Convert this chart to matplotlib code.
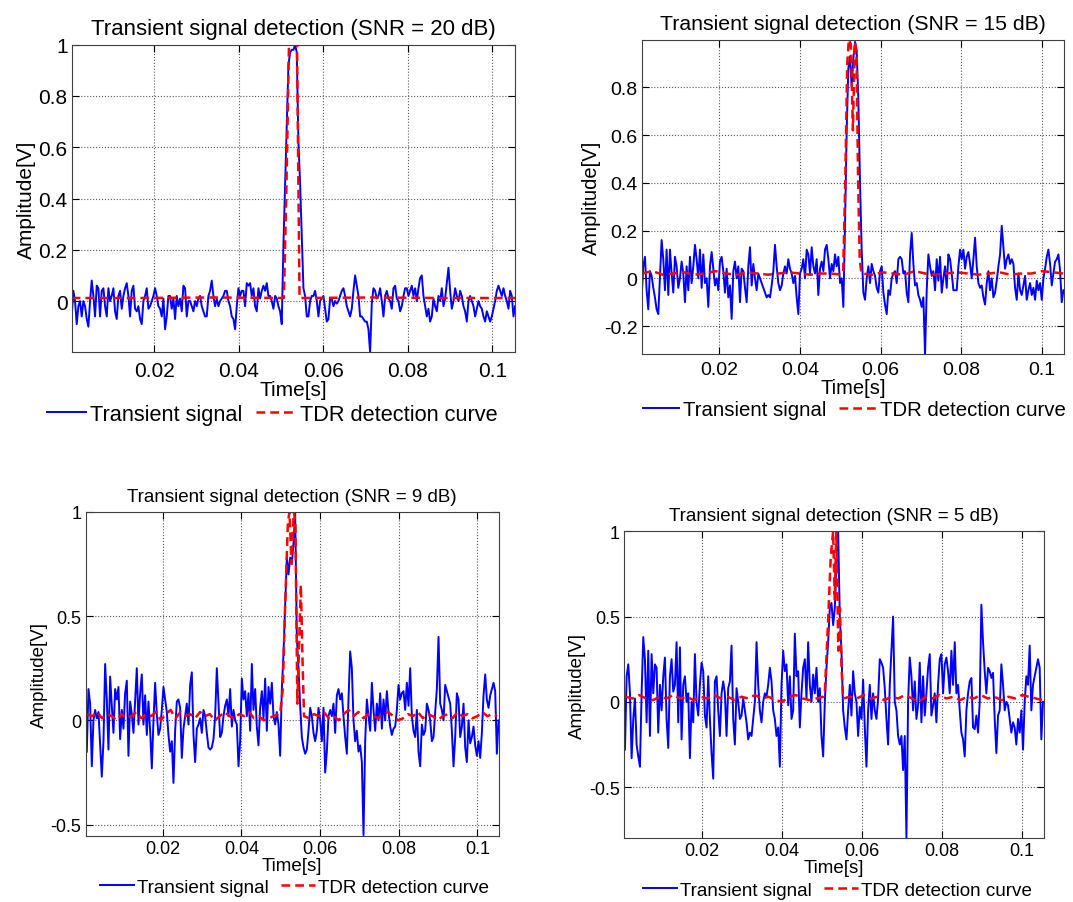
import numpy as np
import matplotlib
matplotlib.use('Agg')
import matplotlib.pyplot as plt

plt.rcParams['font.family'] = ['Liberation Sans', 'DejaVu Sans']

titles = ['Transient signal detection (SNR = 20 dB)',
          'Transient signal detection (SNR = 15 dB)',
          'Transient signal detection (SNR = 9 dB)',
          'Transient signal detection (SNR = 5 dB)']
legend_labels = ['Transient signal', 'TDR detection curve']
xticks = [0.02, 0.04, 0.06, 0.08, 0.1]
xtick_labels = ['0.02', '0.04', '0.06', '0.08', '0.1']

# time span of each blue trace
t_span_20 = (0.00051, 0.1054)
t_span_15 = (0.00076, 0.10526)
t_span_9 = (0.00067, 0.10535)
t_span_5 = (0.00065, 0.10537)

blue_20 = [-0.06, 0.04, 0.00, -0.09, -0.02, 0.00, -0.06, 0.00, -0.02, -0.07,
           -0.10, 0.00, 0.08, 0.02, -0.06, 0.06, 0.05, -0.06, 0.04, 0.05,
           -0.02, -0.06, 0.05, 0.00, 0.02, 0.05, -0.04, -0.07, 0.02, 0.04,
           -0.03, 0.02, 0.05, 0.07, 0.02, -0.06, 0.04, 0.06, -0.03, -0.04,
           -0.02, -0.07, -0.09, 0.00, 0.02, 0.05, -0.03, -0.02, 0.00, 0.02,
           0.05, 0.02, -0.02, -0.03, -0.06, 0.01, -0.11, -0.06, 0.02, 0.02,
           -0.03, 0.01, -0.07, 0.02, -0.02, 0.01, -0.04, 0.06, 0.05, -0.06,
           0.00, 0.00, -0.02, -0.04, 0.00, -0.02, 0.01, 0.02, -0.02, -0.04,
           -0.06, -0.06, 0.02, 0.04, 0.08, 0.02, -0.02, 0.01, -0.02, 0.00,
           0.01, 0.02, 0.04, 0.04, 0.00, -0.02, -0.06, -0.07, -0.11, -0.02,
           0.05, 0.02, 0.04, 0.04, -0.02, 0.07, 0.06, 0.07, 0.02, 0.05,
           -0.02, -0.04, 0.05, 0.01, 0.04, 0.06, 0.04, 0.07, 0.02, 0.02,
           0.00, -0.03, 0.02, 0.01, -0.02, -0.04, -0.09, 0.22, 0.45, 0.67,
           0.92, 0.97, 0.98, 0.98, 1.00, 0.97, 0.62, 0.46, 0.25, 0.05,
           0.02, -0.06, -0.06, 0.00, 0.02, 0.02, 0.04, 0.00, -0.06, 0.00,
           0.01, 0.02, -0.03, -0.08, -0.07, 0.01, 0.01, -0.02, 0.00, -0.01,
           0.00, 0.02, 0.04, 0.05, 0.02, -0.02, -0.04, -0.06, -0.03, 0.04,
           0.10, 0.06, 0.02, -0.06, -0.06, -0.07, -0.08, -0.08, -0.11, -0.20,
           -0.01, 0.05, 0.04, 0.01, 0.02, 0.05, 0.00, -0.06, 0.02, 0.04,
           0.01, 0.00, -0.03, 0.05, 0.06, 0.01, 0.00, -0.04, -0.02, 0.02,
           0.05, 0.05, 0.02, 0.04, 0.06, 0.02, 0.05, 0.00, 0.05, 0.09,
           0.10, 0.02, -0.02, -0.06, -0.03, -0.08, -0.06, 0.01, -0.02, -0.04,
           0.02, 0.00, 0.05, -0.02, 0.01, 0.07, 0.13, 0.04, -0.03, 0.00,
           0.05, 0.02, 0.00, 0.04, 0.02, -0.02, -0.04, -0.08, 0.00, 0.02,
           0.00, -0.02, -0.06, -0.03, 0.00, -0.02, -0.03, -0.06, -0.08, -0.04,
           -0.06, -0.08, -0.06, -0.03, 0.00, 0.04, 0.06, 0.04, 0.02, 0.05,
           0.02, 0.00, -0.03, 0.04, 0.02, -0.06, -0.02]

blue_15 = [-0.08, 0.05, 0.09, -0.05, -0.13, 0.03, 0.01, -0.04, -0.08, -0.13,
           -0.15, 0.00, 0.16, 0.08, -0.05, 0.12, -0.07, 0.12, 0.02, -0.06,
           0.09, 0.05, -0.04, 0.00, 0.07, 0.02, -0.10, 0.05, -0.05, 0.09,
           -0.02, 0.05, 0.14, 0.08, 0.00, 0.12, -0.04, 0.10, -0.02, 0.00,
           -0.12, 0.05, 0.11, 0.04, -0.03, 0.00, -0.05, 0.07, 0.09, 0.03,
           -0.06, 0.04, -0.08, -0.03, -0.17, 0.03, 0.07, 0.00, 0.05, -0.10,
           0.04, 0.03, -0.04, -0.10, 0.05, 0.13, -0.03, 0.06, 0.00, -0.05,
           0.02, 0.00, -0.02, -0.04, -0.06, -0.08, -0.07, -0.08, -0.03, 0.03,
           0.14, 0.05, -0.02, -0.05, -0.03, 0.02, 0.05, 0.02, 0.08, 0.04,
           0.02, -0.02, 0.01, -0.08, -0.15, 0.02, 0.04, 0.08, 0.00, 0.12,
           0.10, 0.02, 0.13, 0.05, 0.02, 0.08, -0.07, 0.04, 0.07, 0.03,
           0.12, 0.14, 0.08, 0.00, 0.06, 0.03, 0.10, 0.05, 0.09, -0.02,
           0.00, -0.12, 0.22, 0.62, 0.88, 0.93, 0.80, 0.92, 0.99, 0.95,
           0.75, 0.40, 0.12, -0.06, -0.09, 0.00, 0.05, -0.02, 0.06, 0.03,
           0.01, -0.04, -0.06, 0.03, 0.05, -0.06, -0.11, -0.15, -0.05, -0.07,
           0.00, 0.02, 0.03, -0.02, 0.08, 0.09, 0.08, 0.02, 0.03, -0.06,
           -0.10, 0.10, 0.19, 0.06, -0.03, -0.02, -0.07, -0.09, -0.12, -0.08,
           -0.32, -0.05, 0.10, 0.05, 0.01, 0.03, -0.05, 0.08, -0.01, 0.09,
           -0.06, 0.00, 0.05, -0.04, 0.10, 0.08, 0.02, -0.05, -0.05, -0.05,
           0.05, 0.12, 0.08, 0.12, 0.04, 0.09, 0.11, 0.06, 0.00, 0.08,
           0.17, 0.05, -0.02, -0.04, -0.03, -0.08, -0.11, -0.02, 0.03, -0.05,
           0.00, -0.08, -0.06, -0.01, 0.05, 0.10, 0.22, 0.13, 0.04, 0.08,
           0.10, 0.06, 0.08, 0.06, -0.04, -0.09, 0.02, -0.05, -0.07, -0.03,
           0.01, -0.09, -0.05, -0.02, -0.07, -0.04, -0.09, -0.01, -0.05, -0.02,
           -0.09, 0.00, 0.04, 0.09, 0.12, 0.06, -0.03, 0.02, 0.07, 0.08,
           0.10, 0.03, -0.10, -0.05]

blue_9 = [-0.15, 0.15, 0.08, -0.22, 0.00, 0.05, 0.01, 0.04, -0.12, -0.27,
          -0.10, 0.27, 0.10, -0.14, 0.21, 0.07, -0.06, 0.15, 0.10, 0.16,
          -0.09, 0.05, -0.04, 0.13, 0.19, -0.17, 0.09, 0.03, -0.06, 0.10,
          0.25, -0.02, 0.13, 0.22, -0.02, 0.12, -0.07, 0.09, -0.05, -0.23,
          0.00, 0.18, 0.03, -0.07, -0.04, 0.05, 0.16, 0.10, 0.04, -0.07,
          -0.15, -0.10, -0.30, -0.05, 0.09, 0.10, 0.06, -0.18, -0.04, 0.02,
          0.08, -0.02, 0.17, 0.23, -0.07, -0.20, -0.04, -0.02, 0.01, -0.06,
          0.05, 0.02, -0.06, -0.13, -0.14, -0.13, -0.09, 0.02, 0.25, 0.08,
          -0.08, -0.06, 0.02, 0.07, 0.10, 0.02, 0.15, -0.03, 0.05, 0.00,
          -0.02, -0.22, -0.10, 0.20, 0.10, 0.14, 0.02, 0.13, -0.05, 0.27,
          0.05, 0.15, -0.03, -0.12, 0.06, 0.14, 0.01, 0.20, -0.05, 0.16,
          0.08, 0.18, 0.02, -0.02, 0.04, -0.02, -0.17, 0.15, 0.32, 0.55,
          0.78, 0.70, 0.78, 0.75, 0.85, 1.00, 0.40, 0.25, 0.07, -0.08,
          -0.13, -0.16, -0.14, -0.05, 0.06, 0.02, -0.06, -0.10, -0.05, 0.06,
          0.00, -0.10, 0.06, -0.25, -0.15, 0.02, 0.05, 0.02, 0.08, -0.06,
          0.12, 0.15, 0.10, 0.13, 0.02, -0.08, -0.16, 0.10, 0.33, 0.25,
          0.00, -0.10, -0.05, -0.15, -0.12, -0.20, -0.55, -0.10, 0.10, 0.02,
          -0.05, 0.18, 0.05, -0.05, 0.08, 0.00, 0.13, -0.04, 0.10, 0.00,
          0.14, 0.04, -0.03, -0.07, -0.04, -0.03, 0.05, 0.17, 0.10, 0.13,
          0.14, 0.05, 0.18, 0.07, 0.25, 0.02, -0.05, -0.08, 0.05, -0.15,
          -0.22, -0.02, -0.07, -0.05, 0.08, 0.05, 0.00, -0.10, -0.08, 0.04,
          0.15, 0.40, 0.08, 0.05, 0.00, 0.17, 0.14, 0.11, 0.08, -0.05,
          -0.22, -0.08, 0.13, 0.10, -0.08, -0.03, 0.08, -0.13, -0.20, 0.00,
          -0.11, -0.08, -0.03, -0.12, -0.17, -0.10, -0.18, -0.06, 0.12, 0.22,
          0.10, 0.06, 0.12, 0.15, 0.18, 0.14, -0.16, 0.00]

blue_5 = [-0.28, 0.15, 0.22, 0.05, -0.33, -0.10, 0.02, -0.25, -0.32, -0.38,
          0.05, 0.38, 0.25, -0.12, 0.30, -0.20, 0.28, 0.05, 0.22, 0.20,
          -0.18, 0.10, -0.05, 0.15, 0.26, -0.10, -0.27, 0.15, 0.25, 0.06,
          0.10, 0.35, -0.12, 0.32, -0.22, 0.10, 0.15, 0.00, 0.05, -0.33,
          0.00, -0.12, 0.28, 0.00, -0.08, 0.10, 0.23, 0.18, -0.08, -0.15,
          0.15, -0.10, -0.30, -0.45, 0.12, 0.15, -0.05, -0.20, 0.05, 0.12,
          0.05, -0.20, 0.08, 0.12, 0.33, -0.10, -0.25, 0.08, 0.00, -0.10,
          -0.08, 0.02, -0.05, -0.12, -0.22, -0.18, -0.20, -0.10, 0.00, 0.35,
          0.10, -0.05, -0.12, 0.00, 0.05, 0.03, 0.10, 0.20, 0.12, -0.05,
          -0.10, -0.20, -0.15, -0.38, 0.10, 0.30, 0.18, 0.22, -0.02, 0.15,
          -0.10, -0.05, 0.40, 0.15, 0.18, -0.15, 0.05, 0.20, 0.25, 0.02,
          0.35, 0.10, 0.00, 0.16, 0.05, 0.20, 0.00, 0.08, -0.20, -0.32,
          0.00, 0.20, 0.35, 0.55, 0.58, 0.45, 0.55, 0.80, 1.00, 0.50,
          0.30, -0.05, -0.15, -0.22, -0.05, 0.10, -0.08, 0.18, 0.05, 0.00,
          -0.20, -0.03, -0.10, 0.13, -0.15, -0.38, -0.05, 0.10, -0.10, 0.05,
          -0.05, -0.10, 0.02, 0.25, 0.23, 0.20, 0.08, -0.10, -0.25, 0.10,
          0.30, 0.50, 0.00, -0.05, -0.20, -0.25, -0.20, -0.40, -0.20, -0.80,
          0.00, 0.26, 0.15, -0.05, 0.12, -0.10, -0.02, 0.23, -0.12, 0.15,
          -0.08, 0.05, 0.20, 0.28, -0.08, -0.02, 0.05, -0.12, 0.10, 0.25,
          0.28, 0.05, 0.22, 0.26, 0.18, 0.05, 0.30, 0.10, 0.35, 0.05,
          0.10, -0.05, -0.18, -0.22, -0.32, -0.05, 0.05, 0.12, 0.14, -0.15,
          -0.16, -0.08, -0.18, 0.00, 0.57, 0.35, 0.18, 0.05, 0.20, 0.18,
          0.14, 0.17, -0.10, -0.30, -0.08, -0.05, 0.22, 0.10, -0.05, 0.00,
          -0.02, -0.10, -0.18, -0.12, -0.15, -0.25, -0.10, -0.18, -0.05, -0.28,
          0.00, 0.15, 0.10, 0.33, -0.05, 0.10, 0.15, 0.20, 0.25, 0.20,
          -0.22, 0.00]

# TDR detection curve: baseline before pulse, pulse (t, v), baseline after pulse
red_pre_20 = [0.012, 0.012, 0.014, 0.012]
red_pulse_t_20 = [0.0507, 0.0513, 0.0519, 0.0538, 0.0541, 0.0544]
red_pulse_v_20 = [0.012, 0.45, 1.00, 1.00, 0.50, 0.012]
red_post_20 = [0.012, 0.014, 0.012, 0.012]

red_pre_15 = [0.02, 0.03, 0.015, 0.02, 0.025, 0.015, 0.02, 0.03, 0.02, 0.015,
              0.025, 0.02, 0.015, 0.02, 0.025, 0.02, 0.015, 0.02, 0.02, 0.015]
red_pulse_t_15 = [0.0507, 0.0512, 0.0517, 0.0521, 0.0526, 0.0531, 0.0536, 0.0540, 0.0544, 0.0548]
red_pulse_v_15 = [0.03, 0.40, 0.90, 1.00, 0.98, 0.62, 0.99, 0.95, 0.40, 0.08]
red_post_15 = [0.02, 0.015, 0.025, 0.02, 0.015, 0.03, 0.02, 0.015, 0.02, 0.025,
               0.02, 0.015, 0.02, 0.025, 0.015, 0.02, 0.02, 0.03, 0.025, 0.02]

red_pre_9 = [0.03, 0.02, 0.04, 0.01, 0.03, 0.02, 0.00, 0.03, 0.01, 0.02,
             0.04, 0.01, 0.03, 0.02, 0.04, 0.00, 0.03, 0.05, 0.01, 0.04,
             0.02, 0.03, 0.01, 0.04, 0.02, 0.03, 0.00, 0.02, 0.04, 0.02,
             0.01, 0.03, 0.02, 0.04, 0.01, 0.02, 0.00, 0.01, 0.02, 0.03]
red_pulse_t_9 = [0.0498, 0.0505, 0.0511, 0.0518, 0.0522, 0.0527, 0.0533, 0.0537, 0.0542, 0.0547, 0.0551, 0.0555]
red_pulse_v_9 = [0.03, 0.15, 0.55, 0.95, 1.00, 0.75, 1.00, 0.95, 0.08, 0.40, 0.65, 0.30]
red_post_9 = [0.02, 0.01, 0.03, 0.02, 0.04, 0.01, 0.02, 0.00, 0.03, 0.05,
              0.02, 0.04, 0.01, 0.03, 0.02, 0.01, 0.03, 0.04, 0.02, 0.00,
              0.01, 0.03, 0.02, 0.04, 0.01, 0.03, 0.02, 0.00, 0.02, 0.03,
              0.01, 0.04, 0.02, 0.03, 0.01, 0.02, 0.04, 0.02, 0.03, 0.02]

red_pre_5 = [0.03, 0.02, 0.04, 0.02, 0.01, 0.03, 0.02, 0.04, 0.02, 0.03,
             0.01, 0.03, 0.02, 0.04, 0.02, 0.03, 0.01, 0.03, 0.02, 0.04,
             0.02, 0.03, 0.01, 0.00, 0.03, 0.04, 0.02, 0.01, 0.02, 0.03]
red_pulse_t_5 = [0.0507, 0.0515, 0.0522, 0.0528, 0.0532, 0.0536, 0.0541, 0.0545, 0.0549]
red_pulse_v_5 = [0.05, 0.45, 0.85, 1.00, 0.60, 1.00, 0.30, 0.55, 0.20]
red_post_5 = [0.02, 0.03, 0.02, 0.04, 0.02, 0.03, 0.01, 0.03, 0.02, 0.04,
              0.02, 0.00, 0.03, 0.02, 0.04, 0.02, 0.03, 0.01, 0.03, 0.02,
              0.04, 0.02, 0.03, 0.01, 0.03, 0.02, 0.04, 0.03, 0.02, 0.01]

ylims = [(-0.2, 1.0), (-0.317, 0.998), (-0.553, 1.0), (-0.798, 1.0)]
yticks = [[0, 0.2, 0.4, 0.6, 0.8, 1.0],
          [-0.2, 0, 0.2, 0.4, 0.6, 0.8],
          [-0.5, 0, 0.5, 1.0],
          [-0.5, 0, 0.5, 1.0]]
ytick_labels = [['0', '0.2', '0.4', '0.6', '0.8', '1'],
                ['-0.2', '0', '0.2', '0.4', '0.6', '0.8'],
                ['-0.5', '0', '0.5', '1'],
                ['-0.5', '0', '0.5', '1']]
xlims = [(0.0005, 0.1054), (0.00077, 0.1054), (0.0004, 0.1054), (0.0004, 0.1056)]


def red_curve(pre, pulse_t, pulse_v, post, t0, t1):
    t_pre = np.linspace(t0, pulse_t[0] - 0.0004, len(pre))
    t_post = np.linspace(pulse_t[-1] + 0.0004, t1, len(post))
    t = np.concatenate([t_pre, pulse_t, t_post])
    v = np.concatenate([pre, pulse_v, post])
    return t, v


panels = [
    (blue_20, t_span_20, red_curve(red_pre_20, red_pulse_t_20, red_pulse_v_20, red_post_20, 0.0005, 0.1054)),
    (blue_15, t_span_15, red_curve(red_pre_15, red_pulse_t_15, red_pulse_v_15, red_post_15, 0.0008, 0.1053)),
    (blue_9, t_span_9, red_curve(red_pre_9, red_pulse_t_9, red_pulse_v_9, red_post_9, 0.0008, 0.1050)),
    (blue_5, t_span_5, red_curve(red_pre_5, red_pulse_t_5, red_pulse_v_5, red_post_5, 0.0008, 0.1053)),
]

# layout (figure fractions) and font sizes
positions = [[0.0668, 0.6087, 0.4133, 0.3407],
             [0.5980, 0.6069, 0.3936, 0.3477],
             [0.0799, 0.0734, 0.3849, 0.3588],
             [0.5815, 0.0709, 0.3914, 0.3396]]
title_fs = [16, 15.3, 13.5, 13.5]
tick_fs = [15, 14, 13, 13]
label_fs = [15, 14.5, 13.5, 13.5]
legend_fs = [15.7, 14.7, 13.6, 13.6]
legend_xy = [(0.2535, 0.5404), (0.796, 0.545), (0.2745, 0.0166), (0.7805, 0.0133)]
xtick_pad = [6, 5, 3, 3]

fig = plt.figure(figsize=(10.73, 9.03), dpi=100)

for i, (blue, span, (rt, rv)) in enumerate(panels):
    ax = fig.add_axes(positions[i])
    t = np.linspace(span[0], span[1], len(blue))
    l1, = ax.plot(t, blue, color='#0000ff', lw=1.4)
    l2, = ax.plot(rt, rv, color='#ff0000', lw=1.8, ls=(0, (3.5, 2)))
    ax.set_xlim(*xlims[i])
    ax.set_ylim(*ylims[i])
    ax.set_xticks(xticks)
    ax.set_xticklabels(xtick_labels)
    ax.set_yticks(yticks[i])
    ax.set_yticklabels(ytick_labels[i])
    ax.tick_params(direction='in', top=True, right=True, length=5, width=0.8,
                   labelsize=tick_fs[i], pad=3)
    ax.tick_params(axis='x', pad=xtick_pad[i])
    ax.grid(True, ls=':', color='0.35', lw=0.8)
    for s in ax.spines.values():
        s.set_color('0.25')
        s.set_linewidth(0.8)
    ax.set_title(titles[i], fontsize=title_fs[i], pad=8)
    ax.set_xlabel('Time[s]', fontsize=label_fs[i], labelpad=0)
    ax.set_ylabel('Amplitude[V]', fontsize=label_fs[i], labelpad=2)
    fig.legend([l1, l2], legend_labels, loc='center', ncol=2, frameon=False,
               bbox_to_anchor=legend_xy[i], bbox_transform=fig.transFigure,
               fontsize=legend_fs[i], handlelength=1.8, handletextpad=0.2,
               columnspacing=0.6, borderpad=0)

fig.savefig('out.png', dpi=100)
